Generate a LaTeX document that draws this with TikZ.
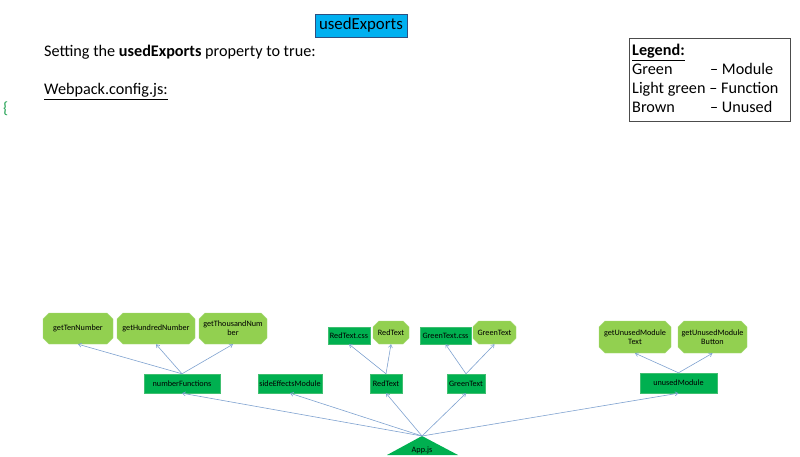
\documentclass[tikz,border=0pt]{standalone}
\usepackage{fontspec}
\setmainfont{Carlito}
\usetikzlibrary{arrows.meta,shapes.misc}
\definecolor{modgreen}{HTML}{00B050}
\definecolor{modedge}{HTML}{40BF70}
\definecolor{fungreen}{HTML}{92D050}
\definecolor{funedge}{HTML}{A8DA78}
\definecolor{arrowblue}{HTML}{7FA2D0}
\definecolor{hdrblue}{HTML}{00B0F0}
\definecolor{hdredge}{HTML}{2F4F7F}
\definecolor{bracegreen}{HTML}{1FA050}
\tikzset{
  modbox/.style={rectangle, fill=modgreen, draw=modedge, line width=0.4pt,
    inner sep=0pt, font=\fontsize{8.2}{9.2}\selectfont, text=black},
  funbox/.style={chamfered rectangle, chamfered rectangle xsep=3pt, chamfered rectangle ysep=3pt,
    fill=fungreen, draw=funedge, line width=0.4pt,
    inner sep=0pt, font=\fontsize{8.2}{9.2}\selectfont, text=black, align=center},
  arr/.style={draw=arrowblue, line width=0.6pt, -{Straight Barb[length=3pt,width=4pt]}},
  bigtxt/.style={inner sep=0pt, font=\fontsize{16.2}{19}\selectfont},
}
\begin{document}
\begin{tikzpicture}[x=1pt,y=-1pt]
\useasboundingbox (0,0) rectangle (800,457);
% header
\node[bigtxt, font=\fontsize{16.8}{19}\selectfont, fill=hdrblue, draw=hdredge, line width=0.6pt, minimum width=92pt, minimum height=23pt] (hdr) at (361,25.5) {usedExports};
\node[bigtxt, anchor=base west] (setting) at (44,57) {Setting the \textbf{usedExports} property to true:};
\node[bigtxt, anchor=base west] (webpack) at (44,95) {\underline{Webpack.config.js:}};
\node[bigtxt, anchor=base west, text=bracegreen] (brace) at (3,114) {\{};
% legend
\node[draw=black!70, line width=0.6pt, minimum width=161pt, minimum height=83pt, inner sep=0pt] (legend) at (709.5,79.5) {};
\node[bigtxt, anchor=base west] (lg0) at (632,56) {\textbf{\underline{Legend:}}};
\node[bigtxt, anchor=base west] (lg1) at (632,75) {Green};
\node[bigtxt, anchor=base west] (lg2) at (632,94) {Light green};
\node[bigtxt, anchor=base west] (lg3) at (632,113) {Brown};
\node[bigtxt, anchor=base west] (lg1r) at (710,75) {– Module};
\node[bigtxt, anchor=base west] (lg2r) at ([xshift=3.5pt]lg2.base east) {– Function};
\node[bigtxt, anchor=base west] (lg3r) at (710,113) {– Unused};
% functions
\node[funbox, minimum width=70pt, minimum height=31pt] (ften) at (78,328.5) {getTenNumber};
\node[funbox, minimum width=78pt, minimum height=31pt] (fhund) at (156,328.5) {getHundredNumber};
\node[funbox, minimum width=68pt, minimum height=31pt] (fthou) at (233,328.5) {getThousandNum\\ber};
\node[modbox, minimum width=42pt, minimum height=17pt] (rcss) at (349,335.5) {RedText.css};
\node[funbox, minimum width=36pt, minimum height=23pt] (fred) at (391,332.5) {RedText};
\node[modbox, minimum width=51pt, minimum height=17pt] (gcss) at (445.5,335.5) {GreenText.css};
\node[funbox, minimum width=43pt, minimum height=23pt] (fgreen) at (494.5,332.5) {GreenText};
\node[funbox, minimum width=72pt, minimum height=32pt] (futext) at (635,337) {getUnusedModule\\Text};
\node[funbox, minimum width=69pt, minimum height=32pt] (fubtn) at (712.5,337) {getUnusedModule\\Button};
% modules
\node[modbox, minimum width=76pt, minimum height=19pt] (nf) at (182,383.5) {numberFunctions};
\node[modbox, minimum width=64pt, minimum height=19pt] (se) at (290,383.5) {sideEffectsModule};
\node[modbox, minimum width=32pt, minimum height=19pt] (rt) at (386,383.5) {RedText};
\node[modbox, minimum width=38pt, minimum height=19pt] (gt) at (466,383.5) {GreenText};
\node[modbox, minimum width=77pt, minimum height=20pt] (um) at (678.5,383) {unusedModule};
% App.js
\fill[modgreen] (422,436) -- (458,455) -- (387,455) -- cycle;
\coordinate (apex) at (422,436);
\node[inner sep=0pt, font=\fontsize{8.2}{9.2}\selectfont] (app) at (422,450) {App.js};
% arrows
\draw[arr] (apex) -- (nf.south);
\draw[arr] (apex) -- (se.south);
\draw[arr] (apex) -- (rt.south);
\draw[arr] (apex) -- (gt.south);
\draw[arr] (apex) -- (um.south);
\draw[arr] (nf.north) -- (ften.south);
\draw[arr] (nf.north) -- (fhund.south);
\draw[arr] (nf.north) -- (fthou.south);
\draw[arr] (rt.north) -- (rcss.south);
\draw[arr] (rt.north) -- (fred.south);
\draw[arr] (gt.north) -- (gcss.south);
\draw[arr] (gt.north) -- (fgreen.south);
\draw[arr] (um.north) -- (futext.south);
\draw[arr] (um.north) -- (fubtn.south);
\end{tikzpicture}
\end{document}
